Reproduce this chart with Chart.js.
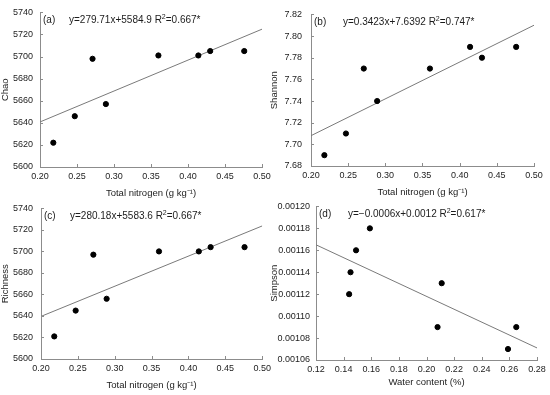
<!DOCTYPE html>
<html>
<head>
<meta charset="utf-8">
<script src="https://cdn.jsdelivr.net/npm/chart.js@4.4.1/dist/chart.umd.min.js"></script>
<style>
  body { margin: 0; background: #fff; }
  #wrap { position: relative; width: 550px; height: 395px; overflow: hidden; }
  .pane { position: absolute; }
</style>
</head>
<body>
<div id="wrap">
  <div class="pane" style="left:0px;top:0px"><canvas id="cA" width="275" height="200"></canvas></div>
  <div class="pane" style="left:262px;top:0px"><canvas id="cB" width="288" height="200"></canvas></div>
  <div class="pane" style="left:0px;top:195px"><canvas id="cC" width="275" height="200"></canvas></div>
  <div class="pane" style="left:262px;top:195px"><canvas id="cD" width="288" height="200"></canvas></div>
</div>
<script>
// values
const nitrogen = [0.218, 0.247, 0.271, 0.289, 0.360, 0.414, 0.430, 0.476];
const chao     = [5622, 5646, 5698, 5657, 5701, 5701, 5705, 5705];
const shannon  = [7.69, 7.71, 7.77, 7.74, 7.77, 7.79, 7.78, 7.79];
const richness = [5621, 5645, 5697, 5656, 5700, 5700, 5704, 5704];
const water    = [0.144, 0.145, 0.149, 0.159, 0.208, 0.211, 0.259, 0.265];
const simpson  = [0.00112, 0.00114, 0.00116, 0.00118, 0.00109, 0.00113, 0.00107, 0.00109];

// fitted lines (end points)
const lineN = [0.20, 0.50];
const lineW = [0.12, 0.28];
const fitChao     = [5640.8, 5724.8];
const fitShannon  = [7.708, 7.810];
const fitRichness = [5639.6, 5723.7];
const fitSimpson  = [0.001165, 0.001071];

const eqA = ['(a)', 'y=279.71x+5584.9 R', '2', '=0.667*'];
const eqB = ['(b)', 'y=0.3423x+7.6392 R', '2', '=0.747*'];
const eqC = ['(c)', 'y=280.18x+5583.6 R', '2', '=0.667*'];
const eqD = ['(d)', 'y=\u22120.0006x+0.0012 R', '2', '=0.617*'];

const FONT = '"Liberation Sans", Arial, sans-serif';
const TXT = '#1c1c1c';
const AXIS = '#8c8c8c';

const inwardTicks = {
  id: 'inwardTicks',
  afterDraw(chart) {
    const ctx = chart.ctx;
    const a = chart.chartArea;
    ctx.save();
    ctx.strokeStyle = AXIS;
    ctx.lineWidth = 1;
    const xs = chart.scales.x, ys = chart.scales.y;
    xs.ticks.forEach(t => {
      const px = Math.round(xs.getPixelForValue(t.value)) + 0.5;
      ctx.beginPath(); ctx.moveTo(px, a.bottom); ctx.lineTo(px, a.bottom - 3); ctx.stroke();
    });
    ys.ticks.forEach(t => {
      const py = Math.round(ys.getPixelForValue(t.value)) + 0.5;
      ctx.beginPath(); ctx.moveTo(a.left, py); ctx.lineTo(a.left + 3, py); ctx.stroke();
    });
    // equation label
    const eq = chart.options.plugins.inwardTicks.eq;
    const ex = chart.options.plugins.inwardTicks.ex;
    const y = a.top + 8;
    ctx.fillStyle = TXT;
    ctx.textBaseline = 'middle';
    ctx.font = '10px ' + FONT;
    ctx.fillText(eq[0], a.left + 3, y);
    let x = a.left + ex;
    ctx.fillText(eq[1], x, y);
    x += ctx.measureText(eq[1]).width;
    ctx.font = '7px ' + FONT;
    ctx.fillText(eq[2], x, y - 3);
    x += ctx.measureText(eq[2]).width;
    ctx.font = '10px ' + FONT;
    ctx.fillText(eq[3], x, y);
    ctx.restore();
  }
};

function makeChart(id, p) {
  new Chart(document.getElementById(id), {
    type: 'scatter',
    data: {
      datasets: [{
        data: p.xs.map((v, i) => ({x: v, y: p.ys[i]})),
        backgroundColor: '#000',
        borderColor: '#000',
        pointRadius: 2.6,
        pointHoverRadius: 2.6
      }, {
        type: 'line',
        data: p.lx.map((v, i) => ({x: v, y: p.ly[i]})),
        borderColor: '#7a7a7a',
        borderWidth: 1,
        pointRadius: 0,
        fill: false
      }]
    },
    options: {
      responsive: false,
      animation: false,
      layout: { padding: { left: 0, top: p.T, right: p.W - p.R, bottom: 0 } },
      plugins: {
        legend: { display: false },
        tooltip: { enabled: false },
        inwardTicks: { eq: p.eq, ex: p.ex }
      },
      scales: {
        x: {
          type: 'linear',
          min: p.xmin, max: p.xmax,
          grid: { display: false, drawTicks: false },
          border: { display: true, color: AXIS, width: 1 },
          ticks: {
            stepSize: p.xstep, padding: 4, color: TXT,
            font: { family: FONT, size: 9 },
            callback: v => v.toFixed(2)
          },
          title: {
            display: true, text: p.xlabel, color: TXT,
            font: { family: FONT, size: 9.5 },
            padding: { top: 0, bottom: p.xtOff }
          },
          afterFit: s => { s.height = 200 - p.B; }
        },
        y: {
          min: p.ymin, max: p.ymax,
          grid: { display: false, drawTicks: false },
          border: { display: true, color: AXIS, width: 1 },
          ticks: {
            stepSize: p.ystep, padding: p.yPad, color: TXT,
            font: { family: FONT, size: 9 },
            callback: v => v.toFixed(p.ydec)
          },
          title: {
            display: true, text: p.ylabel, color: TXT,
            font: { family: FONT, size: 9.5 },
            padding: { top: p.ytOff, bottom: 0 }
          },
          afterFit: s => { s.width = p.L; }
        }
      }
    },
    plugins: [inwardTicks]
  });
}

makeChart('cA', { xs: nitrogen, ys: chao, lx: lineN, ly: fitChao, eq: eqA, ex: 29,
  W: 275, L: 40, R: 262, T: 7, B: 167, xmin: 0.2, xmax: 0.5, xstep: 0.05,
  ymin: 5600, ymax: 5740, ystep: 20, ydec: 0, yPad: 7,
  xlabel: 'Total nitrogen (g kg\u207B\u00B9)', ylabel: 'Chao', xtOff: 1, ytOff: 0 });

makeChart('cB', { xs: nitrogen, ys: shannon, lx: lineN, ly: fitShannon, eq: eqB, ex: 32,
  W: 288, L: 49, R: 272, T: 7, B: 166, xmin: 0.2, xmax: 0.5, xstep: 0.05,
  ymin: 7.68, ymax: 7.82, ystep: 0.02, ydec: 2, yPad: 9,
  xlabel: 'Total nitrogen (g kg\u207B\u00B9)', ylabel: 'Shannon', xtOff: 2, ytOff: 7 });

makeChart('cC', { xs: nitrogen, ys: richness, lx: lineN, ly: fitRichness, eq: eqC, ex: 29,
  W: 275, L: 41, R: 264, T: 7, B: 164, xmin: 0.2, xmax: 0.5, xstep: 0.05,
  ymin: 5600, ymax: 5740, ystep: 20, ydec: 0, yPad: 8,
  xlabel: 'Total nitrogen (g kg\u207B\u00B9)', ylabel: 'Richness', xtOff: 4, ytOff: 0 });

makeChart('cD', { xs: water, ys: simpson, lx: lineW, ly: fitSimpson, eq: eqD, ex: 32,
  W: 288, L: 54, R: 275, T: 7, B: 165, xmin: 0.12, xmax: 0.28, xstep: 0.02,
  ymin: 0.00106, ymax: 0.00120, ystep: 0.00002, ydec: 5, yPad: 6,
  xlabel: 'Water content (%)', ylabel: 'Simpson', xtOff: 7, ytOff: 7 });
</script>
</body>
</html>
